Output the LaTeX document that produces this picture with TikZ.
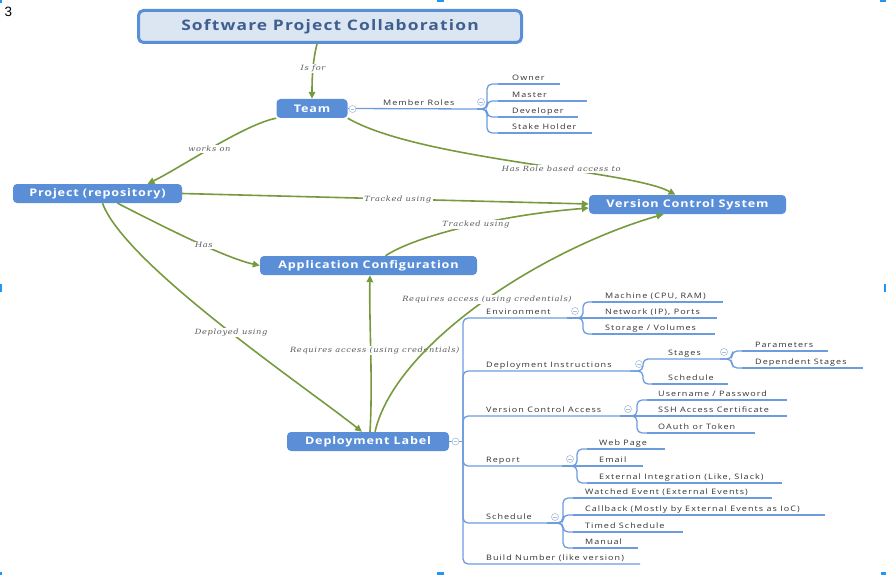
\documentclass[tikz,border=0pt]{standalone}
\usepackage{fontspec}
\usetikzlibrary{arrows.meta,positioning,calc}
\newfontfamily\mapfont{Open Sans}[FakeStretch=1.2,LetterSpace=14]
\newfontfamily\boxfont{Open Sans}[FakeStretch=1.2,LetterSpace=8]
\newfontfamily\linkfont{DejaVu Serif}[FakeStretch=1.15,LetterSpace=9]
\newfontfamily\numfont{Liberation Sans}
\definecolor{boxblue}{HTML}{5A8FD8}
\definecolor{titlefill}{HTML}{DCE6F2}
\definecolor{titletxt}{HTML}{3F5F8F}
\definecolor{linkgreen}{HTML}{779A3E}
\definecolor{treeblue}{HTML}{6C9BDE}
\definecolor{foldgray}{HTML}{A9BEDD}
\definecolor{txt}{HTML}{333333}
\definecolor{txt2}{HTML}{5A5A5A}
\definecolor{handle}{HTML}{2196F3}

\begin{document}
\begin{tikzpicture}[x=1pt, y=-1pt,
  >={Triangle[length=7pt,width=6.5pt]},
  central/.style={draw=boxblue, line width=3pt, fill=titlefill, rounded corners=5pt, text=titletxt, font=\boxfont\bfseries\fontsize{14.5}{16}\selectfont},
  topic/.style={fill=boxblue, rounded corners=4pt, inner sep=0pt, minimum height=19pt, text=white, font=\boxfont\bfseries\fontsize{10.5}{12}\selectfont},
  link/.style={draw=linkgreen, line width=1.6pt, ->},
  lbl/.style={fill=white, inner xsep=1.5pt, inner ysep=1pt, text=txt2, font=\linkfont\itshape\fontsize{7.2}{8.5}\selectfont},
  leaf/.style={anchor=base west, inner sep=0pt, text=txt, font=\mapfont\fontsize{7.5}{9}\selectfont},
  treeline/.style={draw=treeblue, line width=1.3pt, rounded corners=5pt},
  fold/.style={circle, draw=foldgray, fill=white, line width=0.6pt, minimum size=7pt, inner sep=0pt, path picture={\draw[foldgray, line width=0.7pt] ([xshift=1.8pt]path picture bounding box.west) -- ([xshift=-1.8pt]path picture bounding box.east);}},
]
\useasboundingbox (0,0) rectangle (886,575);

% selection handles of the screenshot
\fill[handle] (0,0) rectangle (1.5,3);
\fill[handle] (437,0) rectangle (444,2.5);
\fill[handle] (880,0) rectangle (886,2.5);
\fill[handle] (0,284) rectangle (2,292);
\fill[handle] (883.5,284) rectangle (886,292);
\fill[handle] (0,572) rectangle (2,575);
\fill[handle] (437,572) rectangle (444,575);
\fill[handle] (881,572) rectangle (886,575);
\node[font=\numfont\fontsize{13.5}{15}\selectfont] (pagenum) at (8.5,12) {3};

% main topics
\node[central, minimum width=383pt, minimum height=32pt] (spc) at (330,26.5) {Software Project Collaboration};
\node[topic, minimum width=71pt] (team) at (312,108.5) {Team};
\node[topic, minimum width=169pt] (proj) at (97.5,193.5) {Project (repository)};
\node[topic, minimum width=217pt] (appcfg) at (368.5,265.5) {Application Configuration};
\node[topic, minimum width=197pt] (vcs) at (687.5,204.5) {Version Control System};
\node[topic, minimum width=162pt] (deploy) at (368,441.5) {Deployment Label};

% relationships
\draw[link] ($(spc.south)+(-13,0)$) .. controls (313,60) and (312,75) .. (team.north) node[lbl, pos=0.5] {Is for};
\draw[link] (team.south west) .. controls (245,124) and (180,168) .. ($(proj.north)+(50,0)$) node[lbl, pos=0.52] {works on};
\draw[link] (team.south east) .. controls (420,160) and (630,170) .. ($(vcs.north)+(-12,0)$) node[lbl, pos=0.6] {Has Role based access to};
\draw[link] (proj.east) -- ($(vcs.west)+(0,-0.5)$) node[lbl, pos=0.53] {Tracked using};
\draw[link] ($(proj.south)+(20,0)$) .. controls (160,225) and (225,258) .. (appcfg.west) node[lbl, pos=0.58] {Has};
\draw[link] ($(appcfg.north)+(17,0)$) .. controls (415,236) and (500,215) .. ($(vcs.west)+(0,3.5)$) node[lbl, pos=0.55] {Tracked using};
\draw[link] ($(proj.south)+(5,0)$) .. controls (125,265) and (310,390) .. ($(deploy.north)+(-6,0)$) node[lbl, pos=0.53] {Deployed using};
\draw[link] ($(deploy.north)+(2,0)$) .. controls (373,380) and (369,320) .. ($(appcfg.south)+(1.5,0)$) node[lbl, pos=0.5, xshift=4pt] {Requires access (using credentials)};
\draw[link] ($(deploy.north)+(7,0)$) .. controls (395,345) and (540,250) .. ($(vcs.south)+(-24,0)$) node[lbl, pos=0.52] {Requires access (using credentials)};

% team roles
\coordinate (roles-b) at (477,109);
\draw[treeline] (team.east) -- (roles-b);
\node[leaf] (roles) at (383,105.5) {Member Roles};
\coordinate (owner-a) at (498,84);  \node[leaf] (owner) at (512,80.5) {Owner};         \draw[treeline] (owner-a) -- (560,84);
\coordinate (master-a) at (498,101); \node[leaf] (master) at (512,97.5) {Master};      \draw[treeline] (master-a) -- (587,101);
\coordinate (dev-a) at (498,117);   \node[leaf] (dev) at (512,113.5) {Developer};       \draw[treeline] (dev-a) -- (578,117);
\coordinate (stake-a) at (498,133); \node[leaf] (stake) at (512,129.5) {Stake Holder};  \draw[treeline] (stake-a) -- (592,133);
\draw[treeline] (roles-b) -- ++(10,0) |- (owner-a);
\draw[treeline] (roles-b) -- ++(10,0) |- (master-a);
\draw[treeline] (roles-b) -- ++(10,0) |- (dev-a);
\draw[treeline] (roles-b) -- ++(10,0) |- (stake-a);
\node[fold] (teamfold) at (352.5,109) {};
\node[fold] (rolesfold) at (481,102) {};

% deployment label
\coordinate (dlj) at (463,441.5);
\draw[treeline] (deploy.east) -- (dlj);
\coordinate (env-a) at (473,318);   \coordinate (env-b) at (567,318);   \node[leaf] (env) at (486,314.5) {Environment};
\coordinate (dinst-a) at (473,371); \coordinate (dinst-b) at (630,371); \node[leaf] (dinst) at (486,367.5) {Deployment Instructions};
\coordinate (vca-a) at (473,416);   \coordinate (vca-b) at (620,416);   \node[leaf] (vca) at (486,412.5) {Version Control Access};
\coordinate (report-a) at (473,466); \coordinate (report-b) at (562,466); \node[leaf] (report) at (486,462.5) {Report};
\coordinate (sched-a) at (473,523); \coordinate (sched-b) at (547,523); \node[leaf] (sched) at (486,519.5) {Schedule};
\coordinate (build-a) at (473,564); \coordinate (build-b) at (640,564); \node[leaf] (build) at (486,560.5) {Build Number (like version)};
\draw[treeline] (dlj) |- (env-a) -- (env-b);
\draw[treeline] (dlj) |- (dinst-a) -- (dinst-b);
\draw[treeline] (dlj) |- (vca-a) -- (vca-b);
\draw[treeline] (dlj) |- (report-a) -- (report-b);
\draw[treeline] (dlj) |- (sched-a) -- (sched-b);
\draw[treeline] (dlj) |- (build-a) -- (build-b);

% environment
\coordinate (mach-a) at (592,302); \node[leaf] (mach) at (605,298.5) {Machine (CPU, RAM)};  \draw[treeline] (mach-a) -- (723,302);
\coordinate (net-a) at (592,318);  \node[leaf] (net) at (605,314.5) {Network (IP), Ports};  \draw[treeline] (net-a) -- (717,318);
\coordinate (stor-a) at (592,334); \node[leaf] (stor) at (605,330.5) {Storage / Volumes};   \draw[treeline] (stor-a) -- (715,334);
\draw[treeline] (env-b) -- ++(16,0) |- (mach-a);
\draw[treeline] (env-b) -- (net-a);
\draw[treeline] (env-b) -- ++(16,0) |- (stor-a);

% deployment instructions
\coordinate (stages-a) at (652,359); \coordinate (stages-b) at (720,359); \node[leaf] (stages) at (668,355.5) {Stages};
\coordinate (dsched-a) at (652,384); \node[leaf] (dsched) at (668,380.5) {Schedule};  \draw[treeline] (dsched-a) -- (728,384);
\draw[treeline] (dinst-b) -- ++(13,0) |- (stages-a) -- (stages-b);
\draw[treeline] (dinst-b) -- ++(13,0) |- (dsched-a);
\coordinate (param-a) at (742,351); \node[leaf] (param) at (755,347.5) {Parameters};        \draw[treeline] (param-a) -- (828,351);
\coordinate (dep-a) at (742,368);   \node[leaf] (dep) at (755,364.5) {Dependent Stages};    \draw[treeline] (dep-a) -- (863,368);
\draw[treeline] (stages-b) -- ++(12,0) |- (param-a);
\draw[treeline] (stages-b) -- ++(12,0) |- (dep-a);

% version control access
\coordinate (upw-a) at (647,400);   \node[leaf] (upw) at (658,396.5) {Username / Password};       \draw[treeline] (upw-a) -- (787,400);
\coordinate (ssh-a) at (647,416);   \node[leaf] (ssh) at (658,412.5) {SSH Access Certificate};    \draw[treeline] (ssh-a) -- (787,416);
\coordinate (oauth-a) at (647,433); \node[leaf] (oauth) at (658,429.5) {OAuth or Token};          \draw[treeline] (oauth-a) -- (755,433);
\draw[treeline] (vca-b) -- ++(17,0) |- (upw-a);
\draw[treeline] (vca-b) -- (ssh-a);
\draw[treeline] (vca-b) -- ++(17,0) |- (oauth-a);

% report
\coordinate (web-a) at (587,449);   \node[leaf] (web) at (599,445.5) {Web Page};                         \draw[treeline] (web-a) -- (665,449);
\coordinate (email-a) at (587,466); \node[leaf] (email) at (599,462.5) {Email};                          \draw[treeline] (email-a) -- (643,466);
\coordinate (ext-a) at (587,483);   \node[leaf] (ext) at (599,479.5) {External Integration (Like, Slack)}; \draw[treeline] (ext-a) -- (782,483);
\draw[treeline] (report-b) -- ++(15,0) |- (web-a);
\draw[treeline] (report-b) -- (email-a);
\draw[treeline] (report-b) -- ++(15,0) |- (ext-a);

% schedule
\coordinate (watch-a) at (573,498); \node[leaf] (watch) at (585,494.5) {Watched Event (External Events)};             \draw[treeline] (watch-a) -- (772,498);
\coordinate (call-a) at (573,515);  \node[leaf] (call) at (585,511.5) {Callback (Mostly by External Events as IoC)}; \draw[treeline] (call-a) -- (825,515);
\coordinate (timed-a) at (573,532); \node[leaf] (timed) at (585,528.5) {Timed Schedule};                              \draw[treeline] (timed-a) -- (683,532);
\coordinate (man-a) at (573,548);   \node[leaf] (man) at (585,544.5) {Manual};                                       \draw[treeline] (man-a) -- (638,548);
\draw[treeline] (sched-b) -- ++(16,0) |- (watch-a);
\draw[treeline] (sched-b) -- ++(16,0) |- (call-a);
\draw[treeline] (sched-b) -- ++(16,0) |- (timed-a);
\draw[treeline] (sched-b) -- ++(16,0) |- (man-a);

\node[fold] (deployfold) at (455.5,441.5) {};
\node[fold] (envfold) at (575,311) {};
\node[fold] (dinstfold) at (639,364) {};
\node[fold] (stagesfold) at (724,352) {};
\node[fold] (vcafold) at (628,409) {};
\node[fold] (reportfold) at (570,459) {};
\node[fold] (schedfold) at (555,517) {};
\end{tikzpicture}
\end{document}
